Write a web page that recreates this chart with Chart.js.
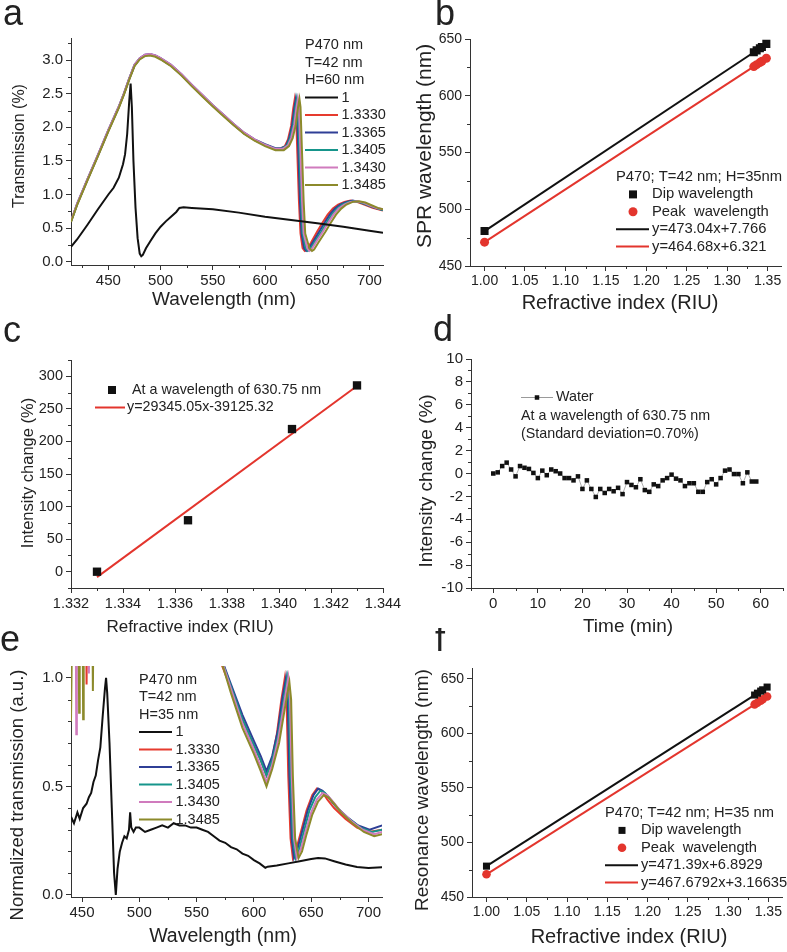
<!DOCTYPE html>
<html>
<head>
<meta charset="utf-8">
<script src="https://cdn.jsdelivr.net/npm/chart.js@4.4.1/dist/chart.umd.min.js"></script>
<style>
  body { margin: 0; background: #fff; }
  #fig { position: relative; width: 787px; height: 952px; overflow: hidden; background: #fff; }
  #fig canvas { position: absolute; }
</style>
</head>
<body>
<div id="fig">
  <canvas id="pa"></canvas>
  <canvas id="pb"></canvas>
  <canvas id="pc"></canvas>
  <canvas id="pd"></canvas>
  <canvas id="pe"></canvas>
  <canvas id="pf"></canvas>
</div>
<script>
// ---------------- data ----------------
// legend labels (refractive index of the medium)
const mediumLabels = ['1', '1.3330', '1.3365', '1.3405', '1.3430', '1.3485'];

// (a) transmission spectra, H=60 nm  [wavelength nm, transmission %]
const aAir = [[414.2,0.22],[420,0.33],[430,0.55],[440,0.78],[450,1.0],[455,1.1],[460,1.25],[464,1.45],[466,1.6],[468,1.9],[470,2.4],[471.3,2.65],[472.5,2.3],[474,1.5],[476,0.8],[478,0.35],[480,0.12],[481.5,0.08],[483,0.1],[486,0.2],[490,0.3],[495,0.42],[500,0.52],[505,0.6],[510,0.67],[515,0.74],[518,0.8],[522,0.81],[530,0.8],[550,0.78],[575,0.73],[600,0.67],[625,0.62],[650,0.57],[675,0.52],[700,0.46],[713,0.43]];
const a13330 = [[414.2,0.60],[420,0.85],[430,1.22],[440,1.58],[450,1.95],[460,2.30],[465,2.50],[470,2.72],[475,2.92],[480,3.02],[485,3.07],[490,3.08],[495,3.06],[500,3.02],[510,2.92],[520,2.78],[530,2.62],[540,2.47],[550,2.32],[560,2.18],[570,2.04],[580,1.91],[590,1.81],[600,1.74],[610,1.68],[615,1.68],[619,1.72],[622,1.82],[625,2.02],[627,2.28],[628.5,2.42],[629.5,2.30],[631,1.60],[632.5,0.90],[634,0.42],[636,0.20],[638,0.16],[640,0.18],[644,0.28],[650,0.45],[655,0.58],[660,0.70],[665,0.79],[670,0.85],[676,0.89],[682,0.91],[688,0.89],[695,0.85],[703,0.80],[713,0.76]];
const a13365 = [[414.2,0.60],[420,0.86],[430,1.23],[440,1.59],[450,1.96],[460,2.31],[465,2.51],[470,2.73],[475,2.93],[480,3.03],[485,3.08],[490,3.09],[495,3.07],[500,3.03],[510,2.93],[520,2.79],[530,2.63],[540,2.48],[550,2.33],[560,2.19],[570,2.05],[580,1.92],[590,1.82],[600,1.75],[610,1.69],[615,1.69],[620,1.72],[623,1.83],[626,2.03],[628,2.28],[629.5,2.42],[630.5,2.30],[632,1.60],[633.5,0.90],[635,0.42],[637.5,0.20],[639.5,0.16],[641.5,0.18],[645.5,0.28],[652,0.45],[657,0.58],[662,0.70],[667,0.79],[672,0.85],[678,0.89],[684,0.91],[690,0.89],[697,0.85],[705,0.80],[713,0.77]];
const a13405 = [[414.2,0.60],[420,0.85],[430,1.22],[440,1.58],[450,1.95],[460,2.30],[465,2.50],[470,2.72],[475,2.92],[480,3.02],[485,3.07],[490,3.08],[495,3.06],[500,3.02],[510,2.92],[520,2.78],[530,2.62],[540,2.47],[550,2.32],[560,2.18],[570,2.04],[580,1.91],[590,1.81],[600,1.74],[610,1.68],[616,1.68],[621,1.73],[624,1.84],[627,2.04],[629,2.28],[630.5,2.42],[631.5,2.30],[633,1.60],[634.5,0.90],[636,0.42],[639,0.20],[641,0.16],[643,0.18],[647,0.28],[654,0.45],[659,0.58],[664,0.70],[669,0.79],[674,0.85],[680,0.89],[686,0.90],[692,0.88],[699,0.84],[706,0.80],[713,0.77]];
const a13430 = [[414.2,0.61],[420,0.86],[430,1.23],[440,1.59],[450,1.96],[460,2.31],[465,2.51],[470,2.73],[475,2.93],[480,3.03],[485,3.08],[490,3.09],[495,3.07],[500,3.03],[510,2.93],[520,2.79],[530,2.63],[540,2.48],[550,2.33],[560,2.19],[570,2.05],[580,1.92],[590,1.82],[600,1.74],[610,1.68],[617,1.68],[622,1.73],[625,1.84],[628,2.04],[630,2.28],[631.5,2.42],[632.5,2.30],[634,1.60],[635.5,0.90],[637,0.42],[640.5,0.20],[642.5,0.16],[644.5,0.18],[648.5,0.28],[655.5,0.45],[660.5,0.58],[665.5,0.70],[670.5,0.79],[676,0.85],[682,0.89],[688,0.90],[694,0.88],[700,0.84],[707,0.80],[713,0.78]];
const a13485 = [[414.2,0.59],[420,0.84],[430,1.21],[440,1.57],[450,1.94],[460,2.29],[465,2.49],[470,2.71],[475,2.91],[480,3.01],[485,3.06],[490,3.07],[495,3.05],[500,3.01],[510,2.91],[520,2.77],[530,2.61],[540,2.46],[550,2.31],[560,2.17],[570,2.03],[580,1.90],[590,1.80],[600,1.72],[610,1.66],[618,1.66],[623,1.72],[626.5,1.84],[629.5,2.04],[631.5,2.28],[633,2.42],[634,2.30],[635.5,1.60],[637,0.90],[638.5,0.42],[642.5,0.20],[645,0.16],[647,0.18],[651,0.28],[658,0.45],[663,0.58],[668,0.70],[673,0.79],[678,0.85],[684,0.89],[690,0.90],[696,0.88],[702,0.84],[708,0.80],[713,0.78]];

// (b) SPR wavelength vs refractive index, H=35 nm
const bIndex = [1.000, 1.3330, 1.3365, 1.3405, 1.3430, 1.3485];
const bDip = [480.8, 638.3, 640.0, 641.9, 643.0, 645.7];
const bPeak = [471.0, 625.7, 627.4, 629.2, 630.4, 633.0];
const bFitX = [1.000, 1.3485];
const bDipFit = [480.8, 645.6];
const bPeakFit = [471.0, 632.9];

// (c) intensity change at 630.75 nm
const cIndex = [1.3330, 1.3365, 1.3405, 1.3430];
const cChange = [0, 79, 219, 286];
const cFitX = [1.3330, 1.3430];
const cFitY = [-8.3, 285.1];

// (d) water stability at 630.75 nm
const dTime = [0,1,2,3,4,5,6,7,8,9,10,11,12,13,14,15,16,17,18,19,20,21,22,23,24,25,26,27,28,29,30,31,32,33,34,35,36,37,38,39,40,41,42,43,44,45,46,47,48,49,50,51,52,53,54,55,56,57,58,59];
const dChange = [0.0,0.1,0.65,0.95,0.35,-0.25,0.65,0.5,0.4,0.05,-0.4,0.25,-0.15,0.35,0.2,0.0,-0.4,-0.4,-0.6,-0.25,-1.35,-0.6,-1.35,-2.05,-1.35,-1.7,-1.35,-1.55,-1.25,-1.8,-0.75,-1.0,-1.2,-0.5,-1.45,-1.6,-0.95,-1.1,-0.6,-0.4,-0.1,-0.45,-0.6,-1.1,-0.85,-0.85,-1.6,-1.6,-0.75,-0.5,-0.95,-0.4,0.25,0.35,-0.05,-0.05,-0.85,0.1,-0.7,-0.7];

// (e) normalized transmission, H=35 nm
const eAir = [[440.4,0.36],[443,0.33],[446,0.38],[448,0.35],[451,0.40],[454,0.42],[456,0.45],[458,0.47],[460,0.52],[462,0.55],[464,0.62],[466,0.68],[468,0.82],[470,0.95],[471,1.0],[472,0.93],[474,0.7],[476,0.4],[478,0.1],[479.5,0.0],[481,0.12],[483,0.2],[485,0.24],[487,0.27],[489,0.26],[491,0.3],[492,0.38],[493,0.31],[495,0.29],[497,0.31],[500,0.31],[505,0.29],[510,0.30],[515,0.31],[520,0.32],[525,0.31],[530,0.33],[535,0.32],[540,0.32],[545,0.31],[550,0.31],[555,0.30],[560,0.29],[565,0.27],[570,0.25],[575,0.24],[580,0.22],[585,0.21],[590,0.19],[595,0.18],[600,0.16],[605,0.145],[610,0.125],[612,0.13],[620,0.135],[630,0.145],[640,0.155],[650,0.165],[656,0.17],[662,0.168],[670,0.155],[680,0.14],[690,0.128],[700,0.124],[712,0.127]];
const e13330 = [[440.4,1.3],[453.5,1.3],[454,0.97],[454.5,1.3],[480,1.8],[520,2.0],[550,1.6],[565,1.2],[572,1.06],[580,0.95],[590,0.81],[600,0.69],[606,0.62],[611,0.55],[616,0.63],[620,0.74],[624,0.9],[627,1.0],[628.5,0.9],[630,0.55],[632,0.26],[634,0.17],[637,0.21],[641,0.29],[646,0.39],[651,0.46],[655,0.49],[659,0.48],[664,0.44],[670,0.40],[680,0.35],[690,0.31],[700,0.29],[712,0.30]];
const e13365 = [[440.4,1.3],[480,1.8],[520,2.0],[550,1.6],[565,1.22],[573,1.07],[580,0.97],[590,0.83],[600,0.71],[606,0.64],[611,0.57],[616,0.64],[621,0.76],[625,0.91],[628,1.0],[629.5,0.9],[631,0.55],[633,0.26],[635,0.17],[638,0.21],[642,0.29],[647,0.39],[652,0.46],[656,0.49],[660,0.48],[665,0.45],[671,0.41],[681,0.36],[691,0.32],[701,0.30],[712,0.32]];
const e13405 = [[440.4,1.3],[480,1.8],[520,2.0],[550,1.6],[565,1.2],[574,1.05],[580,0.96],[590,0.81],[600,0.69],[606,0.62],[611,0.55],[616,0.62],[621,0.73],[626,0.9],[629,1.0],[630.5,0.9],[632,0.55],[634,0.26],[636.5,0.17],[639.5,0.21],[643.5,0.29],[648.5,0.39],[653.5,0.45],[658,0.48],[662,0.47],[667,0.44],[673,0.40],[683,0.35],[693,0.31],[703,0.29],[712,0.30]];
const e13430 = [[440.4,1.3],[444.5,1.3],[445,0.74],[445.5,1.3],[455.5,1.3],[456,1.02],[456.5,1.3],[480,1.8],[520,2.0],[550,1.6],[566,1.18],[575,1.03],[580,0.95],[590,0.79],[600,0.67],[606,0.59],[611,0.52],[616,0.6],[621,0.71],[626,0.87],[630,1.0],[631.5,0.9],[633,0.55],[635,0.26],[637.5,0.17],[641,0.21],[645,0.29],[650,0.38],[655,0.44],[660,0.47],[664,0.46],[669,0.43],[675,0.39],[685,0.34],[695,0.3],[705,0.28],[712,0.29]];
const e13485 = [[440.4,0.8],[441.5,1.3],[447,1.3],[447.5,0.84],[448,1.3],[450.5,1.3],[451,0.81],[451.5,1.3],[459,1.3],[459.5,0.94],[460,1.3],[480,1.8],[520,2.0],[550,1.6],[567,1.16],[576,1.0],[580,0.93],[590,0.77],[600,0.65],[606,0.57],[611,0.5],[616,0.58],[622,0.7],[627,0.86],[631,0.98],[632.5,0.9],[634,0.55],[636,0.26],[639,0.17],[642,0.2],[646,0.28],[651,0.37],[656,0.43],[661,0.46],[665,0.45],[670,0.42],[676,0.38],[686,0.33],[696,0.29],[705,0.27],[712,0.28]];

// (f) resonance wavelength vs refractive index, H=35 nm
const fIndex = [1.000, 1.3330, 1.3365, 1.3405, 1.3430, 1.3485];
const fDip = [478.3, 635.2, 636.9, 638.8, 640.0, 642.5];
const fPeak = [470.8, 626.6, 628.2, 630.1, 631.3, 633.8];
const fFitX = [1.000, 1.3485];
const fDipFit = [478.3, 642.5];
const fPeakFit = [470.8, 633.8];

// tick values
const aXTicks = [450, 500, 550, 600, 650, 700];
const aYTicks = [0, 0.5, 1.0, 1.5, 2.0, 2.5, 3.0];
const riuTicks = [1.00, 1.05, 1.10, 1.15, 1.20, 1.25, 1.30, 1.35];
const nmTicks = [450, 500, 550, 600, 650];
const cXTicks = [1.332, 1.334, 1.336, 1.338, 1.340, 1.342, 1.344];
const cYTicks = [0, 50, 100, 150, 200, 250, 300];
const dXTicks = [0, 10, 20, 30, 40, 50, 60];
const dYTicks = [-10, -8, -6, -4, -2, 0, 2, 4, 6, 8, 10];
const eXTicks = [450, 500, 550, 600, 650, 700];
const eYTicks = [0, 0.5, 1.0];

// ---------------- styling helpers ----------------
const FONT = "'Liberation Sans', Arial, Helvetica, sans-serif";
const INK = '#222';
const seriesColors = ['#111111', '#e63b2e', '#2f3f96', '#16958b', '#d07bbd', '#8c8a2b'];
const RED = '#e3352d';

function pairs(xs, ys) {
  return xs.map((x, i) => ({ x: x, y: ys[i] }));
}

function mids(ticks) {
  const out = [];
  for (let i = 0; i < ticks.length - 1; i++) out.push((ticks[i] + ticks[i + 1]) / 2);
  return out;
}

// draws minor ticks, panel letter, axis titles and the legend texts
const decoPlugin = {
  id: 'deco',
  afterDatasetsDraw(chart, args, o) {
    const ctx = chart.ctx;
    ctx.save();
    ctx.strokeStyle = '#333';
    ctx.lineWidth = 1;
    ['x', 'y'].forEach(k => {
      const sc = chart.scales[k];
      (o.minor[k] || []).forEach(v => {
        const p = Math.round(sc.getPixelForValue(v)) + 0.5;
        ctx.beginPath();
        if (k === 'x') { ctx.moveTo(p, sc.top); ctx.lineTo(p, sc.top + 3); }
        else { ctx.moveTo(sc.right, p); ctx.lineTo(sc.right - 3, p); }
        ctx.stroke();
      });
    });
    ctx.translate(-o.ox, -o.oy);
    o.items.forEach(it => {
      ctx.save();
      if (it.t === 'text') {
        ctx.font = (it.weight || '') + ' ' + it.size + 'px ' + FONT;
        ctx.fillStyle = INK;
        ctx.textAlign = it.align || 'left';
        ctx.textBaseline = it.base || 'middle';
        ctx.translate(it.x, it.y);
        if (it.rot) ctx.rotate(it.rot);
        ctx.fillText(it.s, 0, 0);
      } else if (it.t === 'line') {
        ctx.strokeStyle = it.c;
        ctx.lineWidth = it.w || 2;
        ctx.beginPath();
        ctx.moveTo(it.x1, it.y);
        ctx.lineTo(it.x2, it.y);
        ctx.stroke();
      } else if (it.t === 'sq') {
        ctx.fillStyle = it.c;
        ctx.fillRect(it.x - it.a / 2, it.y - it.a / 2, it.a, it.a);
      } else if (it.t === 'dot') {
        ctx.fillStyle = it.c;
        ctx.beginPath();
        ctx.arc(it.x, it.y, it.r, 0, Math.PI * 2);
        ctx.fill();
      }
      ctx.restore();
    });
    ctx.restore();
  }
};

function axis(spec, dir, size) {
  return {
    type: 'linear',
    min: spec.min,
    max: spec.max,
    afterBuildTicks: s => { s.ticks = spec.ticks.map(v => ({ value: v })); },
    afterFit: s => { if (dir === 'x') s.height = size; else s.width = size; },
    grid: { drawOnChartArea: false, drawTicks: true, tickLength: 5, tickColor: '#333', tickWidth: 1 },
    border: { display: true, color: '#333', width: 1 },
    ticks: {
      autoSkip: false,
      maxRotation: 0,
      padding: spec.pad != null ? spec.pad : 3,
      color: INK,
      font: { family: FONT, size: spec.font },
      callback: v => v.toFixed(spec.dec)
    }
  };
}

function panel(id, box, area, cfg) {
  const cv = document.getElementById(id);
  cv.width = box.w;
  cv.height = box.h;
  cv.style.left = box.l + 'px';
  cv.style.top = box.t + 'px';
  cv.style.width = box.w + 'px';
  cv.style.height = box.h + 'px';
  return new Chart(cv, {
    type: 'scatter',
    data: { datasets: cfg.datasets },
    options: {
      responsive: false,
      animation: false,
      devicePixelRatio: 1,
      layout: { padding: { top: area.y0 - box.t, right: box.l + box.w - area.x1, left: 0, bottom: 0 } },
      plugins: {
        legend: { display: false },
        tooltip: { enabled: false },
        deco: { ox: box.l, oy: box.t, minor: cfg.minor, items: cfg.items }
      },
      scales: {
        x: axis(cfg.x, 'x', box.t + box.h - area.y1),
        y: axis(cfg.y, 'y', area.x0 - box.l)
      }
    },
    plugins: [decoPlugin]
  });
}

function spectrum(data, color) {
  return { data: data, showLine: true, borderColor: color, borderWidth: 2, pointRadius: 0, tension: 0 };
}
function fitLine(xs, ys, color) {
  return { data: pairs(xs, ys), showLine: true, borderColor: color, borderWidth: 2, pointRadius: 0 };
}
function marks(xs, ys, color, style, r) {
  return { data: pairs(xs, ys), showLine: false, pointStyle: style, pointRadius: r,
           pointBackgroundColor: color, pointBorderColor: color, pointBorderWidth: 0 };
}
function T(s, x, y, size, extra) { return Object.assign({ t: 'text', s: s, x: x, y: y, size: size }, extra || {}); }
const UP = -Math.PI / 2;

// legend for the spectra panels
function spectraLegend(x, y0, head, size) {
  const items = [];
  const rowH = 17.5;
  head.forEach((s, i) => items.push(T(s, x, y0 + i * rowH, size)));
  mediumLabels.forEach((s, i) => {
    const y = y0 + (head.length + i) * rowH;
    items.push({ t: 'line', x1: x, x2: x + 33, y: y, c: seriesColors[i], w: 2 });
    items.push(T(s, x + 36.5, y, size));
  });
  return items;
}
function fitLegend(x, y0, head, fits, size, sq, dot) {
  const rowH = 17.4;
  return [
    T(head, x, y0, size),
    { t: 'sq', x: x + 17, y: y0 + rowH, a: sq, c: '#111' },
    T('Dip wavelength', x + 36, y0 + rowH, size),
    { t: 'dot', x: x + 17, y: y0 + 2 * rowH, r: dot, c: RED },
    T('Peak  wavelength', x + 36, y0 + 2 * rowH, size),
    { t: 'line', x1: x, x2: x + 33, y: y0 + 3 * rowH, c: '#111', w: 2 },
    T(fits[0], x + 36, y0 + 3 * rowH, size),
    { t: 'line', x1: x, x2: x + 33, y: y0 + 4 * rowH, c: RED, w: 2 },
    T(fits[1], x + 36, y0 + 4 * rowH, size)
  ];
}

// ---------------- panel a ----------------
panel('pa', { l: 0, t: 0, w: 393, h: 315 }, { x0: 71, x1: 383, y0: 38, y1: 265 }, {
  datasets: [
    spectrum(aAir, seriesColors[0]),
    spectrum(a13485, seriesColors[5]),
    spectrum(a13430, seriesColors[4]),
    spectrum(a13405, seriesColors[3]),
    spectrum(a13365, seriesColors[2]),
    spectrum(a13330, seriesColors[1])
  ],
  x: { min: 414.2, max: 713, ticks: aXTicks, dec: 0, font: 15, pad: 2 },
  y: { min: -0.05, max: 3.33, ticks: aYTicks, dec: 1, font: 15 },
  minor: { x: [425].concat(mids(aXTicks)), y: mids(aYTicks).concat([3.25]) },
  items: [
    T('a', 3, 25, 36, { base: 'alphabetic' }),
    T('Transmission (%)', 20, 146, 16, { align: 'center', rot: UP }),
    T('Wavelength (nm)', 224, 300, 19, { align: 'center' })
  ].concat(spectraLegend(305, 45, ['P470 nm', 'T=42 nm', 'H=60 nm'], 14.5))
});

// ---------------- panel b ----------------
panel('pb', { l: 393, t: 0, w: 394, h: 315 }, { x0: 470, x1: 782, y0: 39, y1: 266 }, {
  datasets: [
    marks(bIndex, bDip, '#111', 'rect', 5.7),
    marks(bIndex, bPeak, RED, 'circle', 4.5),
    fitLine(bFitX, bDipFit, '#111'),
    fitLine(bFitX, bPeakFit, RED)
  ],
  x: { min: 0.982, max: 1.367, ticks: riuTicks, dec: 2, font: 14, pad: 2 },
  y: { min: 450, max: 650, ticks: nmTicks, dec: 0, font: 14 },
  minor: { x: mids(riuTicks), y: mids(nmTicks) },
  items: [
    T('b', 435, 25, 36, { base: 'alphabetic' }),
    T('SPR wavelength (nm)', 425, 146, 21, { align: 'center', rot: UP }),
    T('Refractive index (RIU)', 620, 303, 20, { align: 'center' })
  ].concat(fitLegend(616, 177, 'P470; T=42 nm; H=35nm', ['y=473.04x+7.766', 'y=464.68x+6.321'], 14.8, 8, 4.5))
});

// ---------------- panel c ----------------
panel('pc', { l: 0, t: 312, w: 420, h: 326 }, { x0: 71, x1: 383, y0: 360, y1: 588 }, {
  datasets: [
    marks(cIndex, cChange, '#111', 'rect', 5.9),
    fitLine(cFitX, cFitY, RED)
  ],
  x: { min: 1.332, max: 1.344, ticks: cXTicks, dec: 3, font: 14.5, pad: 2 },
  y: { min: -25, max: 325, ticks: cYTicks, dec: 0, font: 14.5 },
  minor: { x: mids(cXTicks), y: [-25].concat(mids(cYTicks), [325]) },
  items: [
    T('c', 3, 342, 36, { base: 'alphabetic' }),
    T('Intensity change (%)', 28, 473, 16.5, { align: 'center', rot: UP }),
    T('Refractive index (RIU)', 190, 627, 17, { align: 'center' }),
    { t: 'sq', x: 112, y: 390, a: 8, c: '#111' },
    T('At a wavelength of 630.75 nm', 132, 390, 14.3),
    { t: 'line', x1: 95, x2: 125, y: 407.5, c: RED, w: 2 },
    T('y=29345.05x-39125.32', 127, 407.5, 14.3)
  ]
});

// ---------------- panel d ----------------
panel('pd', { l: 393, t: 312, w: 394, h: 326 }, { x0: 471, x1: 783, y0: 359, y1: 588 }, {
  datasets: [
    { data: pairs(dTime, dChange), showLine: true, borderColor: '#9a9a9a', borderWidth: 0.8,
      pointStyle: 'rect', pointRadius: 3.2, pointBackgroundColor: '#111', pointBorderColor: '#111', pointBorderWidth: 0 }
  ],
  x: { min: -5, max: 65, ticks: dXTicks, dec: 0, font: 15, pad: 2 },
  y: { min: -10, max: 10, ticks: dYTicks, dec: 0, font: 15 },
  minor: { x: [-5].concat(mids(dXTicks), [65]), y: mids(dYTicks) },
  items: [
    T('d', 433, 341, 36, { base: 'alphabetic' }),
    T('Intensity change (%)', 427, 481, 19, { align: 'center', rot: UP }),
    T('Time (min)', 628, 627, 19, { align: 'center' }),
    { t: 'line', x1: 521, x2: 553, y: 397.5, c: '#9a9a9a', w: 1 },
    { t: 'sq', x: 537, y: 397.5, a: 4.5, c: '#111' },
    T('Water', 556, 397.5, 14.3),
    T('At a wavelength of 630.75 nm', 521, 416, 14.3),
    T('(Standard deviation=0.70%)', 521, 434, 14.3)
  ]
});

// ---------------- panel e ----------------
panel('pe', { l: 0, t: 628, w: 393, h: 324 }, { x0: 71, x1: 382, y0: 666, y1: 897 }, {
  datasets: [
    spectrum(eAir, seriesColors[0]),
    spectrum(e13485, seriesColors[5]),
    spectrum(e13430, seriesColors[4]),
    spectrum(e13405, seriesColors[3]),
    spectrum(e13365, seriesColors[2]),
    spectrum(e13330, seriesColors[1])
  ],
  x: { min: 440.4, max: 711.8, ticks: eXTicks, dec: 0, font: 15, pad: 2 },
  y: { min: -0.01, max: 1.055, ticks: eYTicks, dec: 1, font: 15 },
  minor: { x: mids(eXTicks), y: [0.1, 0.2, 0.3, 0.4, 0.6, 0.7, 0.8, 0.9] },
  items: [
    T('e', 0, 651, 36, { base: 'alphabetic' }),
    T('Normalized transmission (a.u.)', 18, 795, 18.5, { align: 'center', rot: UP }),
    T('Wavelength (nm)', 223, 937, 19.5, { align: 'center' })
  ].concat(spectraLegend(139, 679.5, ['P470 nm', 'T=42 nm', 'H=35 nm'], 14.5))
});

// ---------------- panel f ----------------
panel('pf', { l: 393, t: 628, w: 394, h: 324 }, { x0: 472, x1: 782, y0: 668, y1: 897 }, {
  datasets: [
    marks(fIndex, fDip, '#111', 'rect', 5),
    marks(fIndex, fPeak, RED, 'circle', 4.3),
    fitLine(fFitX, fDipFit, '#111'),
    fitLine(fFitX, fPeakFit, RED)
  ],
  x: { min: 0.982, max: 1.367, ticks: riuTicks, dec: 2, font: 14, pad: 2 },
  y: { min: 450, max: 660, ticks: nmTicks, dec: 0, font: 14 },
  minor: { x: mids(riuTicks), y: mids(nmTicks) },
  items: [
    T('f', 435, 651, 36, { base: 'alphabetic' }),
    T('Resonance wavelength (nm)', 423, 790, 19, { align: 'center', rot: UP }),
    T('Refractive index (RIU)', 629, 937, 20, { align: 'center' })
  ].concat(fitLegend(605, 813, 'P470; T=42 nm; H=35 nm', ['y=471.39x+6.8929', 'y=467.6792x+3.16635'], 14.7, 7, 4.3))
});
</script>
</body>
</html>
